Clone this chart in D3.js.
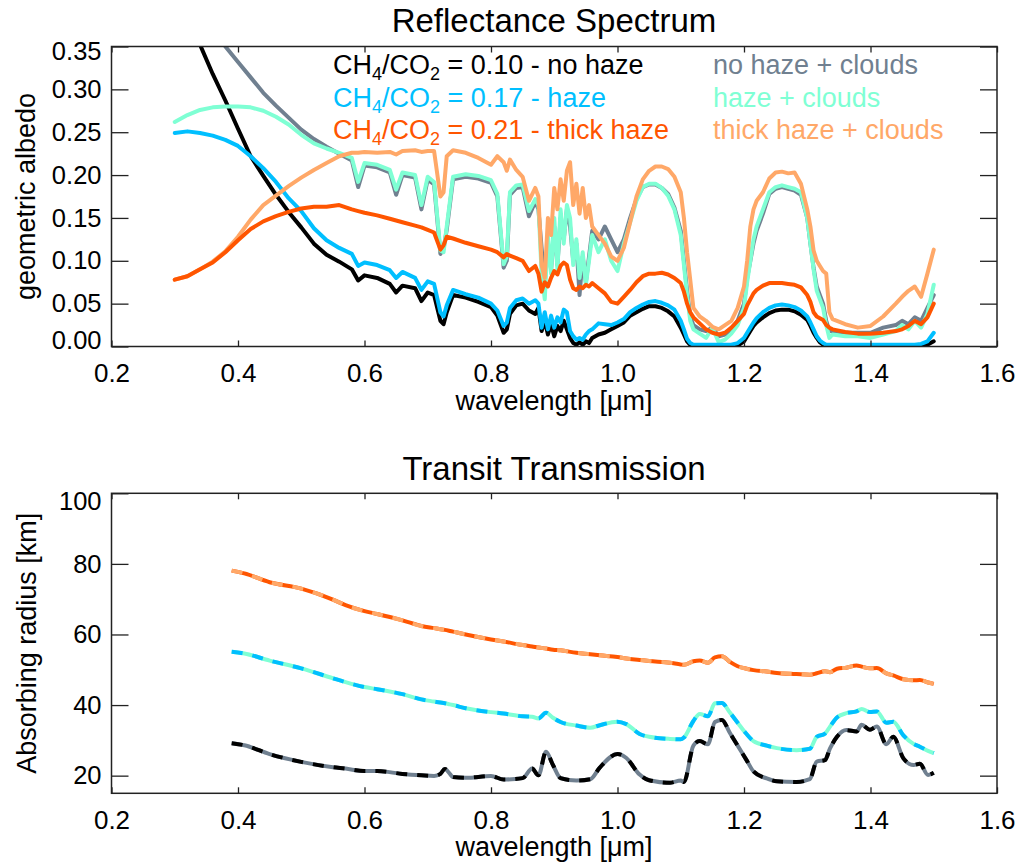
<!DOCTYPE html>
<html>
<head>
<meta charset="utf-8">
<script src="https://cdn.jsdelivr.net/npm/d3@7"></script>
<style>
  html, body { margin: 0; padding: 0; background: #fff; }
  svg { display: block; font-family: "Liberation Sans", Arial, Helvetica, sans-serif; }
</style>
</head>
<body>
<svg id="chart" width="1021" height="867"></svg>
<script>
// ---------------- DATA ----------------
const wlTop = [
  0.30,0.32,0.34,0.36,0.38,0.40,0.42,0.44,0.46,0.48,
  0.50,0.52,0.54,0.56,0.58,0.59,0.60,0.62,0.64,0.65,
  0.66,0.68,0.69,0.70,0.71,0.72,0.725,0.73,0.74,0.76,
  0.78,0.80,0.81,0.82,0.825,0.83,0.84,0.85,0.86,0.87,
  0.875,0.88,0.885,0.89,0.895,0.90,0.905,0.91,0.915,0.92,
  0.925,0.93,0.935,0.94,0.945,0.95,0.955,0.96,0.97,0.98,
  0.99,1.00,1.01,1.02,1.03,1.04,1.05,1.06,1.07,1.08,
  1.09,1.10,1.105,1.11,1.115,1.12,1.13,1.14,1.15,1.16,
  1.17,1.18,1.19,1.20,1.205,1.21,1.215,1.22,1.23,1.24,
  1.25,1.26,1.27,1.28,1.29,1.30,1.305,1.31,1.315,1.32,
  1.325,1.33,1.335,1.34,1.36,1.38,1.40,1.42,1.44,1.45,
  1.46,1.47,1.48,1.49,1.50
];
// CH4/CO2 = 0.10 - no haze
const albedoNoHaze = [
  0.43,0.39,0.352,0.318,0.287,0.254,0.222,0.199,0.177,0.157,
  0.139,0.120,0.107,0.099,0.090,0.077,0.083,0.080,0.073,0.063,
  0.071,0.068,0.053,0.063,0.060,0.030,0.026,0.040,0.060,0.057,
  0.052,0.046,0.036,0.016,0.020,0.038,0.048,0.050,0.042,0.038,
  0.045,0.018,0.030,0.014,0.026,0.012,0.024,0.018,0.030,0.020,
  0.010,0.004,0.002,0.005,0.002,0.006,0.004,0.010,0.014,0.016,
  0.020,0.024,0.028,0.036,0.040,0.044,0.047,0.047,0.045,0.041,
  0.035,0.022,0.014,0.006,0.002,0.000,0.000,0.000,0.000,0.000,
  0.000,0.000,0.001,0.006,0.012,0.018,0.024,0.028,0.034,0.039,
  0.042,0.043,0.043,0.041,0.037,0.031,0.024,0.016,0.010,0.005,
  0.002,0.001,0.000,0.000,0.000,0.000,0.000,0.000,0.000,0.000,
  0.000,0.000,0.001,0.002,0.006
];
// CH4/CO2 = 0.17 - haze
const albedoHaze = [
  0.249,0.251,0.249,0.246,0.241,0.234,0.222,0.208,0.192,0.173,
  0.158,0.138,0.124,0.115,0.108,0.094,0.098,0.095,0.089,0.080,
  0.087,0.080,0.066,0.076,0.073,0.040,0.035,0.048,0.066,0.061,
  0.057,0.050,0.042,0.024,0.028,0.045,0.054,0.056,0.050,0.054,
  0.050,0.022,0.040,0.020,0.036,0.022,0.034,0.028,0.043,0.040,
  0.018,0.012,0.008,0.010,0.008,0.014,0.018,0.020,0.027,0.026,
  0.025,0.028,0.032,0.040,0.045,0.049,0.052,0.053,0.051,0.048,
  0.043,0.030,0.020,0.009,0.004,0.002,0.002,0.002,0.002,0.002,
  0.002,0.002,0.004,0.010,0.016,0.022,0.028,0.033,0.040,0.045,
  0.048,0.049,0.048,0.046,0.042,0.035,0.028,0.020,0.012,0.007,
  0.004,0.002,0.002,0.002,0.002,0.002,0.002,0.002,0.002,0.002,
  0.002,0.002,0.003,0.006,0.016
];
// CH4/CO2 = 0.21 - thick haze
const albedoThickHaze = [
  0.078,0.082,0.090,0.098,0.110,0.124,0.137,0.146,0.152,0.157,
  0.161,0.163,0.163,0.165,0.160,0.158,0.156,0.153,0.149,0.147,
  0.145,0.141,0.139,0.136,0.133,0.113,0.118,0.128,0.126,0.121,
  0.117,0.113,0.110,0.104,0.108,0.106,0.103,0.100,0.088,0.094,
  0.085,0.064,0.075,0.070,0.080,0.088,0.084,0.094,0.098,0.095,
  0.078,0.068,0.066,0.070,0.068,0.072,0.070,0.074,0.068,0.062,
  0.052,0.050,0.058,0.066,0.075,0.082,0.085,0.085,0.086,0.084,
  0.080,0.074,0.064,0.050,0.040,0.034,0.027,0.020,0.016,0.014,
  0.016,0.022,0.030,0.038,0.048,0.055,0.062,0.066,0.071,0.074,
  0.074,0.074,0.073,0.072,0.069,0.060,0.052,0.040,0.035,0.033,
  0.031,0.025,0.022,0.020,0.017,0.015,0.015,0.016,0.018,0.020,
  0.024,0.030,0.026,0.034,0.050
];
// no haze + clouds
const albedoNoHazeClouds = [
  0.50,0.46,0.42,0.385,0.350,0.332,0.314,0.296,0.281,0.267,
  0.253,0.242,0.233,0.225,0.217,0.186,0.211,0.209,0.203,0.177,
  0.200,0.197,0.160,0.195,0.189,0.108,0.114,0.136,0.195,0.198,
  0.196,0.191,0.175,0.092,0.100,0.177,0.185,0.186,0.152,0.169,
  0.160,0.115,0.075,0.120,0.090,0.140,0.095,0.150,0.125,0.160,
  0.140,0.100,0.120,0.060,0.105,0.075,0.105,0.135,0.125,0.140,
  0.125,0.110,0.125,0.150,0.172,0.186,0.189,0.189,0.185,0.178,
  0.162,0.135,0.100,0.065,0.035,0.025,0.020,0.018,0.022,0.012,
  0.014,0.020,0.030,0.050,0.080,0.100,0.120,0.135,0.155,0.178,
  0.184,0.186,0.184,0.182,0.177,0.150,0.120,0.092,0.070,0.060,
  0.050,0.030,0.018,0.018,0.016,0.016,0.016,0.022,0.025,0.030,
  0.026,0.034,0.030,0.045,0.060
];
// haze + clouds
const albedoHazeClouds = [
  0.262,0.270,0.276,0.279,0.280,0.280,0.279,0.275,0.268,0.259,
  0.247,0.237,0.231,0.226,0.220,0.192,0.214,0.212,0.206,0.183,
  0.203,0.200,0.165,0.198,0.192,0.112,0.110,0.140,0.198,0.201,
  0.199,0.194,0.178,0.096,0.105,0.180,0.188,0.189,0.158,0.172,
  0.165,0.085,0.055,0.130,0.085,0.150,0.090,0.160,0.120,0.165,
  0.150,0.095,0.125,0.080,0.110,0.072,0.100,0.130,0.110,0.125,
  0.100,0.088,0.120,0.145,0.170,0.186,0.190,0.190,0.185,0.176,
  0.160,0.130,0.095,0.060,0.030,0.020,0.015,0.010,0.022,0.005,
  0.008,0.015,0.025,0.045,0.075,0.100,0.125,0.140,0.160,0.180,
  0.186,0.188,0.186,0.184,0.180,0.150,0.120,0.090,0.065,0.055,
  0.045,0.025,0.010,0.014,0.012,0.012,0.010,0.014,0.018,0.025,
  0.020,0.030,0.022,0.038,0.072
];
// thick haze + clouds
const albedoThickHazeClouds = [
  0.078,0.082,0.090,0.099,0.111,0.128,0.148,0.165,0.176,0.187,
  0.197,0.206,0.214,0.222,0.226,0.226,0.227,0.226,0.227,0.224,
  0.228,0.229,0.227,0.228,0.228,0.175,0.180,0.222,0.229,0.226,
  0.220,0.212,0.222,0.215,0.205,0.218,0.206,0.198,0.170,0.185,
  0.175,0.095,0.080,0.150,0.130,0.185,0.160,0.195,0.170,0.205,
  0.215,0.165,0.190,0.155,0.185,0.150,0.165,0.140,0.130,0.120,
  0.105,0.100,0.115,0.145,0.175,0.195,0.205,0.210,0.210,0.207,
  0.198,0.180,0.150,0.110,0.078,0.045,0.035,0.030,0.023,0.020,
  0.025,0.030,0.045,0.070,0.100,0.140,0.160,0.170,0.180,0.196,
  0.203,0.204,0.202,0.203,0.190,0.160,0.140,0.112,0.100,0.094,
  0.088,0.085,0.040,0.032,0.026,0.022,0.024,0.035,0.050,0.058,
  0.065,0.070,0.058,0.085,0.113
];

const wlBot = [
  0.39,0.41,0.45,0.50,0.55,0.57,0.60,0.62,0.66,0.69,
  0.71,0.72,0.727,0.735,0.74,0.76,0.80,0.82,0.85,0.865,
  0.875,0.887,0.898,0.91,0.935,0.957,0.972,1.00,1.014,1.035,
  1.05,1.083,1.10,1.105,1.12,1.13,1.143,1.154,1.165,1.178,
  1.19,1.204,1.215,1.236,1.252,1.283,1.304,1.315,1.328,1.336,
  1.347,1.362,1.378,1.386,1.399,1.41,1.425,1.436,1.452,1.468,
  1.478,1.491,1.50
];
const radiusNoHaze = [
  29.2,28.6,26.1,23.9,22.4,22.0,21.3,21.3,20.5,20.1,
  19.9,20.5,21.9,20.5,19.6,19.4,19.9,18.9,19.3,22.0,
  20.1,26.8,23.0,19.3,18.6,19.0,22.3,26.1,25.0,20.3,
  18.7,18.0,18.6,18.2,28.5,29.8,28.9,35.2,35.8,32.0,
  28.5,24.4,21.2,19.2,18.4,18.2,19.0,24.0,24.4,27.7,
  31.0,32.9,32.5,34.4,33.0,33.9,28.9,31.0,24.9,23.0,
  23.4,20.2,20.8
];
const radiusHaze = [
  55.1,54.6,52.6,50.4,47.6,46.5,45.1,44.5,43.1,41.6,
  41.0,40.7,40.5,40.2,40.0,39.1,38.0,37.6,36.8,36.7,
  36.2,37.8,36.4,35.2,34.2,33.6,34.3,35.3,34.6,31.8,
  31.0,30.4,30.3,30.8,35.5,37.5,36.8,40.5,40.6,37.8,
  35.0,31.8,29.8,28.5,27.8,27.2,27.6,31.0,31.9,33.9,
  36.5,37.7,38.2,38.9,38.0,38.2,35.0,35.3,31.4,29.0,
  28.2,27.0,26.4
];
const radiusThickHaze = [
  78.1,77.3,74.8,73.0,69.9,68.3,66.6,65.8,64.0,62.4,
  61.8,61.5,61.3,61.0,60.8,60.0,58.6,58.0,57.0,56.6,
  56.3,56.0,55.7,55.5,54.8,54.4,54.1,53.6,53.2,52.8,
  52.5,52.0,51.5,51.4,52.4,52.6,52.0,53.5,53.8,52.2,
  51.0,50.3,49.9,49.5,49.1,48.8,48.6,49.0,49.6,49.3,
  50.3,50.6,51.2,50.9,50.4,50.5,49.0,48.4,47.3,47.0,
  47.1,46.4,46.0
];

const xTickValues = [0.2, 0.4, 0.6, 0.8, 1.0, 1.2, 1.4, 1.6];
const yTickTop = [0.00, 0.05, 0.10, 0.15, 0.20, 0.25, 0.30, 0.35];
const yTickBot = [20, 40, 60, 80, 100];
const ratios = ["0.10", "0.17", "0.21"];
const hazeLabels = ["no haze", "haze", "thick haze"];
const cloudLabels = ["no haze + clouds", "haze + clouds", "thick haze + clouds"];

// ---------------- STYLE ----------------
const C = {
  black: "#000000", blue: "#00BFFF", red: "#FF5500",
  gray: "#708090", aqua: "#7FFFD4", sand: "#FFA868"
};
const axisColor = "#222";

const svg = d3.select("#chart");
const x = d3.scaleLinear().domain([0.2, 1.6]).range([111.5, 997]);
const yTop = d3.scaleLinear().domain([0, 0.35]).range([346.5, 46.5]);
const yBot = d3.scaleLinear().domain([15, 100]).range([793.3, 493.3]);

function frame(y, yTicks, yFmt, topNudge, botNudge) {
  const [y0, y1] = y.range();
  const g = svg.append("g");
  const left = g.append("g").attr("transform", `translate(${x.range()[0]},0)`)
    .call(d3.axisLeft(y).tickValues(yTicks).tickFormat(d3.format(yFmt))
      .tickSizeInner(-17).tickSizeOuter(0).tickPadding(10));
  left.selectAll("text").attr("font-size", 25.5).attr("fill", "#000")
    .attr("transform", d => d === yTicks[yTicks.length - 1] ? `translate(0,${topNudge})` :
      (d === yTicks[0] ? `translate(0,${botNudge})` : null));
  g.append("g").attr("transform", `translate(${x.range()[1]},0)`)
    .call(d3.axisRight(y).tickValues(yTicks).tickFormat("")
      .tickSizeInner(-17).tickSizeOuter(0));
  const bottom = g.append("g").attr("transform", `translate(0,${y0})`)
    .call(d3.axisBottom(x).tickValues(xTickValues).tickFormat(d3.format(".1f"))
      .tickSizeInner(-6).tickSizeOuter(0).tickPadding(17));
  bottom.selectAll("text").attr("font-size", 26).attr("fill", "#000");
  g.append("g").attr("transform", `translate(0,${y1})`)
    .call(d3.axisTop(x).tickValues(xTickValues).tickFormat("")
      .tickSizeInner(-6).tickSizeOuter(0));
  g.selectAll(".domain").remove();
  g.selectAll(".tick line").attr("stroke", axisColor).attr("stroke-width", 1.3);
  g.selectAll("text").attr("font-family", "'Liberation Sans', Arial, sans-serif");
  g.append("rect").attr("x", x.range()[0]).attr("y", y1)
    .attr("width", x.range()[1] - x.range()[0]).attr("height", y0 - y1)
    .attr("fill", "none").attr("stroke", axisColor).attr("stroke-width", 1.5);
  return g;
}

const defs = svg.append("defs");
defs.append("clipPath").attr("id", "clipTop").append("rect")
  .attr("x", 111.5).attr("y", 46.5).attr("width", 997 - 111.5).attr("height", 300);
defs.append("clipPath").attr("id", "clipBot").append("rect")
  .attr("x", 111.5).attr("y", 493.3).attr("width", 997 - 111.5).attr("height", 300);

// ---------------- TOP PANEL ----------------
const lineTop = d3.line().x(d => x(d[0])).y(d => yTop(d[1]));
const topSeries = [
  { v: albedoNoHazeClouds, c: C.gray },
  { v: albedoNoHaze, c: C.black },
  { v: albedoHazeClouds, c: C.aqua },
  { v: albedoHaze, c: C.blue },
  { v: albedoThickHazeClouds, c: C.sand },
  { v: albedoThickHaze, c: C.red }
];
const gTop = svg.append("g").attr("clip-path", "url(#clipTop)");
topSeries.forEach(s => {
  gTop.append("path").datum(wlTop.map((w, i) => [w, s.v[i]]))
    .attr("d", lineTop).attr("fill", "none").attr("stroke", s.c)
    .attr("stroke-width", 4).attr("stroke-linejoin", "round").attr("stroke-linecap", "round");
});
frame(yTop, yTickTop, ".2f", 5, -6);

svg.append("text").attr("x", 554).attr("y", 32).attr("text-anchor", "middle")
  .attr("font-size", 33).text("Reflectance Spectrum");
svg.append("text").attr("x", 554).attr("y", 410).attr("text-anchor", "middle")
  .attr("font-size", 27).text("wavelength [μm]");
svg.append("text").attr("transform", "translate(35,196.5) rotate(-90)")
  .attr("text-anchor", "middle").attr("font-size", 27).text("geometric albedo");

const legColors = [C.black, C.blue, C.red];
const cloudColors = [C.gray, C.aqua, C.sand];
ratios.forEach((r, i) => {
  const yy = 74 + i * 32.7;
  const t = svg.append("text").attr("x", 333).attr("y", yy).attr("font-size", 27)
    .attr("fill", legColors[i]).attr("xml:space", "preserve");
  t.append("tspan").text("CH");
  t.append("tspan").attr("font-size", 18).attr("dy", 6).text("4");
  t.append("tspan").attr("dy", -6).text("/CO");
  t.append("tspan").attr("font-size", 18).attr("dy", 6).text("2");
  t.append("tspan").attr("dy", -6).text(" = " + r + " - " + hazeLabels[i]);
  svg.append("text").attr("x", 713).attr("y", yy).attr("font-size", 27)
    .attr("fill", cloudColors[i]).text(cloudLabels[i]);
});

// ---------------- BOTTOM PANEL ----------------
const lineBot = d3.line().x(d => x(d[0])).y(d => yBot(d[1])).curve(d3.curveMonotoneX);
const botSeries = [
  { v: radiusThickHaze, base: C.red, dash: C.sand },
  { v: radiusHaze, base: C.aqua, dash: C.blue },
  { v: radiusNoHaze, base: C.gray, dash: C.black }
];
const gBot = svg.append("g").attr("clip-path", "url(#clipBot)");
botSeries.forEach(s => {
  const data = wlBot.map((w, i) => [w, s.v[i]]);
  gBot.append("path").datum(data).attr("d", lineBot).attr("fill", "none")
    .attr("stroke", s.base).attr("stroke-width", 4).attr("stroke-linejoin", "round");
  gBot.append("path").datum(data).attr("d", lineBot).attr("fill", "none")
    .attr("stroke", s.dash).attr("stroke-width", 4).attr("stroke-dasharray", "11,10")
    .attr("stroke-linejoin", "round");
});
frame(yBot, yTickBot, "d", 8, 0);

svg.append("text").attr("x", 554).attr("y", 480).attr("text-anchor", "middle")
  .attr("font-size", 33).text("Transit Transmission");
svg.append("text").attr("x", 554).attr("y", 856).attr("text-anchor", "middle")
  .attr("font-size", 27).text("wavelength [μm]");
svg.append("text").attr("transform", "translate(36,643.3) rotate(-90)")
  .attr("text-anchor", "middle").attr("font-size", 27).text("Absorbing radius [km]");
</script>
</body>
</html>
